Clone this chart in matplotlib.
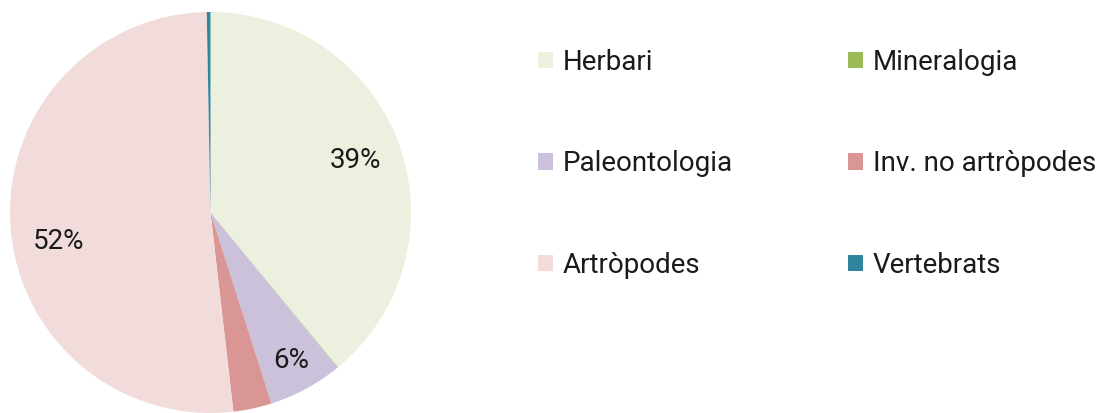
import numpy as np
import matplotlib.pyplot as plt
from matplotlib.patches import Patch

categories = ['Herbari', 'Mineralogia', 'Paleontologia', 'Inv. no artròpodes', 'Artròpodes', 'Vertebrats']
shares = [39.1, 0.05, 6.0, 3.1, 51.6, 0.3]
colors = ['#EBF1DE', '#9BBB59', '#CCC1DA', '#D99694', '#F2DCDB', '#31859C']

# label placement tweaks (radius, angular shift in degrees) to mimic the original layout
label_radius = [0.77, 0.77, 0.84, 0.77, 0.77, 0.77]
label_shift = [0, 0, 0, 0, 7, 0]

plt.rcParams['font.family'] = ['Roboto', 'DejaVu Sans']

fig = plt.figure(figsize=(11, 4.13), dpi=100)
ax = fig.add_axes([10 / 1100, 0 / 413, 401 / 1100, 401 / 413])


def pct_label(p):
    # only the big slices get a label
    return f'{p:.0f}%' if p >= 5 else ''


wedges, texts, autotexts = ax.pie(shares, colors=colors, startangle=90, counterclock=False,
                                  autopct=pct_label, pctdistance=1.0,
                                  textprops={'fontsize': 20, 'color': '#1a1a1a'},
                                  wedgeprops={'linewidth': 0})
for w, t, r, s in zip(wedges, autotexts, label_radius, label_shift):
    ang = np.deg2rad((w.theta1 + w.theta2) / 2 + s)
    t.set_position((r * np.cos(ang), r * np.sin(ang)))
ax.set_xlim(-1, 1)
ax.set_ylim(-1, 1)

handles = [Patch(facecolor=c, edgecolor='none') for c in colors]

# two legend columns, read row by row in the original
for col, x in enumerate([538 / 1100, 848 / 1100]):
    idx = [col, col + 2, col + 4]
    leg = fig.legend([handles[i] for i in idx], [categories[i] for i in idx],
                     loc='upper left', bbox_to_anchor=(x, 1 - 49 / 413),
                     frameon=False, fontsize=20, labelspacing=2.68,
                     handlelength=0.54, handleheight=0.54, handletextpad=0.36,
                     borderpad=0, borderaxespad=0)
    for t in leg.get_texts():
        t.set_color('#1a1a1a')

fig.savefig('out.png', dpi=100)
